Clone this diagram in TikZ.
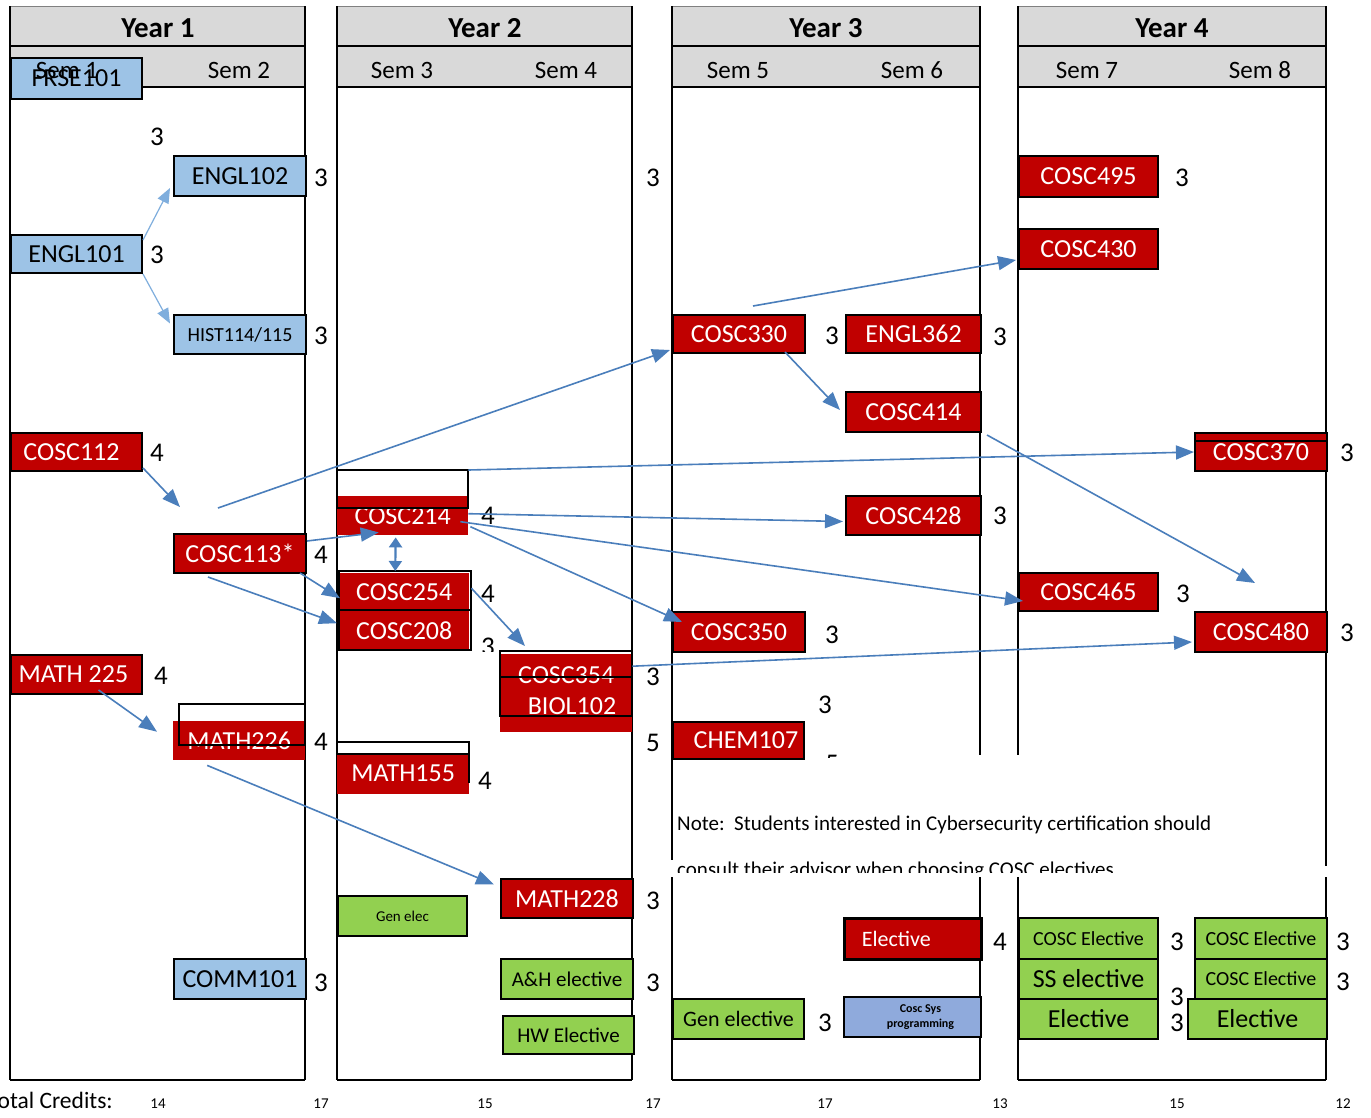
\documentclass[tikz,border=0pt]{standalone}
\usepackage{fontspec}
\setmainfont{Carlito}
\usetikzlibrary{arrows.meta,calc}
\definecolor{myred}{HTML}{C00000}
\definecolor{myblue}{HTML}{9DC3E6}
\definecolor{mygreen}{HTML}{92D050}
\definecolor{sysblue}{HTML}{8FAADC}
\definecolor{hdr}{HTML}{D9D9D9}
\definecolor{arrowblue}{HTML}{4A7EBB}
\definecolor{lightarrow}{HTML}{7FAEDD}
\newcommand{\fsz}[1]{\fontsize{#1}{#1}\selectfont}
\begin{document}
\begin{tikzpicture}[x=1pt,y=-1pt,
  cbox/.style={draw=black, line width=2pt, inner sep=0pt, anchor=north west, font=\fsz{26}},
  redb/.style={cbox, fill=myred, text=white},
  blueb/.style={cbox, fill=myblue},
  greenb/.style={cbox, fill=mygreen},
  redfill/.style={fill=myred, text=white, inner sep=0pt, anchor=north west, font=\fsz{26}},
  cr/.style={font=\fsz{27}, inner sep=0pt},
  frameline/.style={line width=2.2pt, draw=black},
  arr/.style={draw=arrowblue, line width=1.6pt, -{Triangle[length=18pt,width=14pt]}},
  larr/.style={draw=lightarrow, line width=1.2pt, -{Triangle[length=15pt,width=12pt]}},
  dbl/.style={draw=arrowblue, line width=2.2pt, {Triangle[length=10pt,width=13pt]}-{Triangle[length=10pt,width=13pt]}},
  hdrtitle/.style={font=\fsz{29}\bfseries, inner sep=0pt},
  semlab/.style={font=\fsz{25}, inner sep=0pt},
  tot/.style={font=\fsz{15}, inner sep=0pt, anchor=base},
]
\useasboundingbox (0,0) rectangle (1371,1117);
\fill[white] (0,0) rectangle (1371,1117);

% ---------- year frames ----------
\foreach \xl/\xr in {10/305, 337/632, 672/980, 1018/1326}{
  \fill[hdr] (\xl,6) rectangle (\xr,87);
  \draw[gray, line width=1pt] (\xl,6) -- (\xr,6);
  \draw[line width=1.5pt] (\xl,46) -- (\xr,46);
  \draw[frameline] (\xl,87) -- (\xr,87);
  \draw[frameline] (\xl,1080) -- (\xr,1080);
}
\draw[frameline] (10,6) -- (10,1080);
\draw[frameline] (305,6) -- (305,1080);
\draw[frameline] (337,6) -- (337,1080);
\draw[frameline] (632,6) -- (632,1080);
\draw[frameline] (672,6) -- (672,860);
\draw[frameline] (672,877) -- (672,1080);
\draw[frameline] (980,6) -- (980,755);
\draw[frameline] (980,877) -- (980,1080);
\draw[frameline] (1018,6) -- (1018,755);
\draw[frameline] (1018,877) -- (1018,1080);
\draw[frameline] (1326,6) -- (1326,866);
\draw[frameline] (1326,877) -- (1326,1080);

\node[hdrtitle] (y1) at (158,28) {Year 1};
\node[hdrtitle] (y2) at (485,28) {Year 2};
\node[hdrtitle] (y3) at (826,28) {Year 3};
\node[hdrtitle] (y4) at (1172,28) {Year 4};
\node[semlab] (s2) at (239,70) {Sem 2};
\node[semlab] (s3) at (402,70) {Sem 3};
\node[semlab] (s4) at (566,70) {Sem 4};
\node[semlab] (s5) at (738,70) {Sem 5};
\node[semlab] (s6) at (912,70) {Sem 6};
\node[semlab] (s7) at (1087,70) {Sem 7};
\node[semlab] (s8) at (1260,70) {Sem 8};

% ---------- clipped credit digits ----------
\begin{scope}
  \clip (470,600) rectangle (500,651);
  \node[cr] (cr208) at (488,647) {3};
\end{scope}
\begin{scope}
  \clip (815,730) rectangle (850,757);
  \node[cr] (cr107) at (832,764) {5};
\end{scope}
\node[cr] (cr7b) at (1177,997) {3};

% ---------- Year 1 ----------
\node[blueb, minimum width=131pt, minimum height=41pt] (frse) at (10,57) {FRSE101};
\node[semlab] (s1) at (67,70) {Sem 1};
\node[blueb, minimum width=132pt, minimum height=40pt] (engl102) at (173,155) {ENGL102};
\node[blueb, minimum width=131pt, minimum height=38pt] (engl101) at (10,234) {ENGL101};
\node[blueb, minimum width=132pt, minimum height=39pt, font=\fsz{20}] (hist) at (173,314) {HIST114/115};
\node[blueb, minimum width=132pt, minimum height=40pt] (comm) at (173,958) {COMM101};
\node[redb, minimum width=131pt, minimum height=38pt] (cosc112) at (10,432) {COSC112\hspace*{10pt}};
\node[redb, minimum width=132pt, minimum height=39pt] (cosc113) at (173,533) {COSC113*};
\node[redb, minimum width=131pt, minimum height=39pt] (math225) at (10,654) {MATH 225\hspace*{6pt}};
\node[redfill, minimum width=132pt, minimum height=39pt] (math226) at (173,721) {MATH226};
\draw[line width=2pt] (179,704) rectangle (305,745);

% ---------- Year 2 ----------
\node[redfill, minimum width=131pt, minimum height=39pt] (cosc214) at (337,496) {COSC214};
\draw[line width=2pt] (337,470) rectangle (468,508);
\node[redfill, minimum width=130pt, minimum height=38pt] (cosc254) at (339,573) {COSC254};
\node[redfill, minimum width=130pt, minimum height=40pt] (cosc208) at (339,611) {COSC208};
\draw[line width=2pt] (339,571) rectangle (471,650);
\draw[line width=2pt] (339,610) -- (471,610);
\fill[myred] (500,654) rectangle (632,732);
\node[font=\fsz{26}, text=white, inner sep=0pt, minimum width=132pt, minimum height=40pt, anchor=north west] (cosc354) at (500,655) {COSC354};
\node[font=\fsz{26}, text=white, inner sep=0pt] (biol) at (572,706) {BIOL102};
\draw[line width=2pt] (500,651) rectangle (632,716);
\draw[line width=2pt] (500,677) -- (632,677);
\node[redfill, minimum width=132pt, minimum height=41pt] (math155) at (337,753) {MATH155};
\draw[line width=2pt] (337,742) rectangle (469,754);
\draw[line width=2pt] (469,754) -- (469,783);
\node[redb, minimum width=132pt, minimum height=39pt] (math228) at (500,878) {MATH228};
\node[greenb, minimum width=129pt, minimum height=40pt, font=\fsz{15}] (genelec) at (337,895) {\raisebox{-4pt}{Gen elec}};
\node[greenb, minimum width=132pt, minimum height=40pt, font=\fsz{21}] (ah) at (500,958) {A\&H elective};
\node[greenb, minimum width=131pt, minimum height=38pt, font=\fsz{21}] (hw) at (502,1015) {HW Elective};

% ---------- Year 3 ----------
\node[redb, minimum width=132pt, minimum height=38pt] (cosc330) at (672,314) {COSC330};
\node[redb, minimum width=135pt, minimum height=38pt] (engl362) at (845,314) {ENGL362};
\node[redb, minimum width=135pt, minimum height=40pt] (cosc414) at (845,391) {COSC414};
\node[redb, minimum width=135pt, minimum height=39pt] (cosc428) at (845,495) {COSC428};
\node[redb, minimum width=132pt, minimum height=40pt] (cosc350) at (672,611) {COSC350};
\node[redb, minimum width=131pt, minimum height=37pt] (chem) at (672,721) {\hspace*{15pt}CHEM107};
\node[redb, minimum width=137pt, minimum height=41pt, font=\fsz{22}, line width=2.5pt] (elecr) at (843,917) {\raisebox{-4pt}{Elective}\hspace*{33pt}};
\node[greenb, minimum width=131pt, minimum height=40pt, font=\fsz{22}] (gen3) at (672,998) {\raisebox{-4pt}{Gen elective}};
\node[cbox, fill=sysblue, minimum width=137pt, minimum height=40pt, font=\fsz{12}\bfseries, align=center] (cosys) at (843,996) {\hspace*{16pt}Cosc Sys\\[3pt]\hspace*{16pt}programming};

% ---------- Year 4 ----------
\node[redb, minimum width=139pt, minimum height=41pt] (cosc495) at (1018,155) {COSC495};
\node[redb, minimum width=139pt, minimum height=40pt] (cosc430) at (1018,228) {COSC430};
\node[redb, minimum width=132pt, minimum height=38pt] (cosc370) at (1194,432) {COSC370};
\draw[line width=2pt] (1194,441) -- (1326,441);
\node[redb, minimum width=139pt, minimum height=38pt] (cosc465) at (1018,572) {COSC465};
\node[redb, minimum width=132pt, minimum height=40pt] (cosc480) at (1194,611) {COSC480};
\node[greenb, minimum width=139pt, minimum height=41pt, font=\fsz{20}] (ce1) at (1018,917) {\raisebox{-3pt}{COSC Elective}};
\node[greenb, minimum width=139pt, minimum height=40pt] (ss) at (1018,958) {SS elective};
\node[greenb, minimum width=139pt, minimum height=40pt] (el7) at (1018,998) {Elective};
\node[greenb, minimum width=132pt, minimum height=41pt, font=\fsz{20}] (ce2) at (1194,917) {\raisebox{-3pt}{COSC Elective}};
\node[greenb, minimum width=132pt, minimum height=40pt, font=\fsz{20}] (ce3) at (1194,958) {\raisebox{-3pt}{COSC Elective}};
\node[greenb, minimum width=139pt, minimum height=40pt] (el8) at (1187,998) {Elective};

% ---------- credits ----------
\foreach \x/\y/\t [count=\i] in {157/137/3, 321/178/3, 157/255/3, 321/336/3, 157/453/4, 321/555/4, 161/676/4, 321/742/4, 321/983/3,
  653/178/3, 488/516/4, 488/594/4, 485/781/4, 653/677/3, 653/743/5, 653/901/3, 653/983/3,
  832/336/3, 1000/337/3, 1000/516/3, 832/635/3, 825/705/3, 1000/942/4, 825/1023/3,
  1182/178/3, 1183/594/3, 1347/453/3, 1347/633/3, 1177/942/3, 1177/1023/3, 1343/942/3, 1343/982/3}
  { \node[cr] (cr\i) at (\x,\y) {\t}; }

% ---------- note ----------
\node[anchor=base west, font=\fsz{21}, inner sep=0pt] (note1) at (677,830) {Note:\ \ Students interested in Cybersecurity certification should};
\begin{scope}
  \clip (660,840) rectangle (1330,872);
  \node[anchor=base west, font=\fsz{21}, inner sep=0pt] (note2) at (677,876) {consult their advisor when choosing COSC electives};
\end{scope}

% ---------- totals ----------
\node[anchor=base east, font=\fsz{23.5}, inner sep=0pt] (totlab) at (113,1108) {Total Credits:};
\foreach \x/\t [count=\i] in {158/14, 321/17, 485/15, 653/17, 825/17, 1000/13, 1177/15, 1343/12}
  { \node[tot] (tot\i) at (\x,1108) {\t}; }

% ---------- connectors ----------
\coordinate (p112) at (180,507);
\coordinate (p330s) at (218,508);
\coordinate (p480) at (1255,583);

\draw[larr] ($(engl101.north east)+(0,6)$) -- ($(engl102.west)+(-3,12)$);
\draw[larr] (engl101.south east) -- ($(hist.west)+(-3,-11)$);
\draw[arr] ($(cosc112.south east)+(0,-4)$) -- (p112);
\draw[arr] (p330s) -- ($(cosc330.south west)+(-2,-4)$);
\draw[arr] ($(cosc113.north east)+(0,8)$) -- ($(cosc214.south)+(-24,-3)$);
\draw[arr] ($(cosc113.south east)+(-7,-1)$) -- ($(cosc254.west)+(1,6)$);
\draw[arr] ($(cosc113.south)+(-32,3)$) -- ($(cosc208.west)+(-2,-8)$);
\draw[dbl] ($(cosc214.south)+(-7,2)$) -- ($(cosc254.north)+(-9,-2)$);
\draw[arr] ($(cosc214.north east)+(0,-26)$) -- (cosc370.west);
\draw[arr] ($(cosc214.east)+(0,-2)$) -- ($(cosc428.west)+(-2,6)$);
\draw[arr] ($(cosc214.east)+(-8,6)$) -- ($(cosc465.west)+(5,9)$);
\draw[arr] ($(cosc214.east)+(2,11)$) -- ($(cosc350.north west)+(10,11)$);
\draw[arr] ($(cosc254.east)+(2,-4)$) -- ($(cosc354.north west)+(25,-9)$);
\draw[arr] ($(cosc354.east)+(0,-9)$) -- ($(cosc480.west)+(-2,10)$);
\draw[arr] ($(math225.south)+(22,-5)$) -- ($(math226.west)+(-16,-9)$);
\draw[arr] ($(math226.south)+(-32,5)$) -- ($(math228.west)+(-6,-14)$);
\draw[arr] ($(cosc330.north)+(14,-8)$) -- ($(cosc430.west)+(-2,11)$);
\draw[arr] ($(cosc330.south east)+(-21,-2)$) -- ($(cosc414.west)+(-5,-2)$);
\draw[arr] ($(cosc414.south east)+(5,2)$) -- (p480);
\end{tikzpicture}
\end{document}
